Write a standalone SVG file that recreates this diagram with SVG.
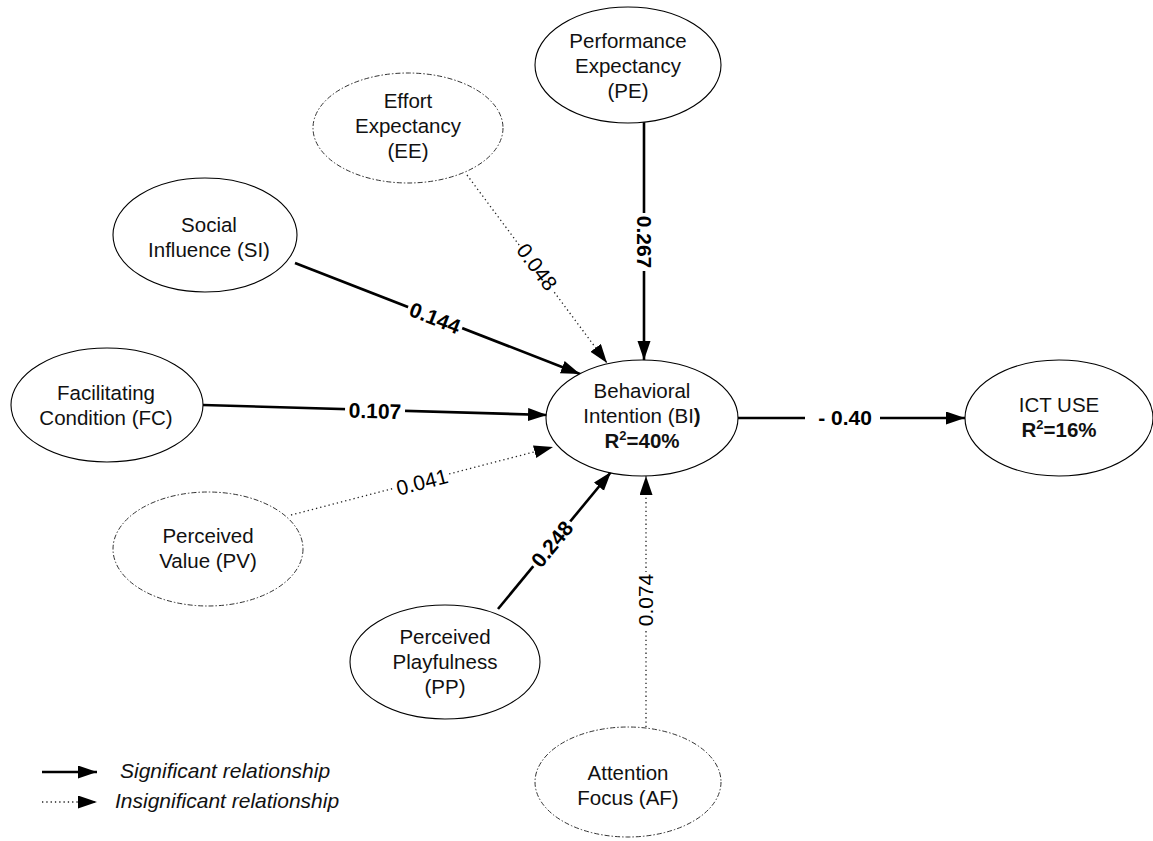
<svg xmlns="http://www.w3.org/2000/svg" width="1153" height="841" viewBox="0 0 1153 841">
  <style>
    .node { fill: #fff; stroke: #000; stroke-width: 1.1; }
    .weak { fill: #fff; stroke: #333; stroke-width: 1; stroke-dasharray: 5 2 1.5 2; }
    .lbl { font-family: "Liberation Sans", Arial, sans-serif; font-size: 20.5px; fill: #111; text-anchor: middle; }
    .sig { fill: none; stroke: #000; stroke-width: 2.6; }
    .ins { fill: none; stroke: #222; stroke-width: 1.3; stroke-dasharray: 1.3 3; }
    .coef { font-family: "Liberation Sans", Arial, sans-serif; font-size: 21px; fill: #000; text-anchor: middle; }
    .b { font-weight: bold; }
    .bg { fill: #fff; }
    .legend { font-family: "Liberation Sans", Arial, sans-serif; font-size: 21px; font-style: italic; fill: #111; }
  </style>
  <defs>
    <marker id="arrow" markerUnits="userSpaceOnUse" markerWidth="20" markerHeight="14" refX="19" refY="6.5" orient="auto">
      <path d="M0,0 L19,6.5 L0,13 z" fill="#000"/>
    </marker>
  </defs>

  <!-- connectors -->
  <g id="connectors">
    <!-- PE -> BI -->
    <path class="sig" d="M644,122 L644,360" marker-end="url(#arrow)"/>
    <!-- EE -> BI -->
    <path class="ins" d="M467,175 L607,363" marker-end="url(#arrow)"/>
    <!-- SI -> BI -->
    <path class="sig" d="M295,263 L580,374" marker-end="url(#arrow)"/>
    <!-- FC -> BI -->
    <path class="sig" d="M203,405 L547,415" marker-end="url(#arrow)"/>
    <!-- PV -> BI -->
    <path class="ins" d="M291,515 L553,447" marker-end="url(#arrow)"/>
    <!-- PP -> BI -->
    <path class="sig" d="M498,609 L611,472" marker-end="url(#arrow)"/>
    <!-- AF -> BI -->
    <path class="ins" d="M646,727 L646,476" marker-end="url(#arrow)"/>
    <!-- BI -> ICT USE -->
    <path class="sig" d="M738,418 L965,418" marker-end="url(#arrow)"/>

    <!-- path coefficients -->
    <g transform="translate(644,242) rotate(90)">
      <rect class="bg" x="-29" y="-9" width="58" height="18"/>
      <text class="coef b" dy=".35em">0.267</text>
    </g>
    <g transform="translate(537,267) rotate(53.3)">
      <rect class="bg" x="-28" y="-9" width="56" height="18"/>
      <text class="coef" dy=".35em">0.048</text>
    </g>
    <g transform="translate(435,318) rotate(21.3)">
      <rect class="bg" x="-29" y="-9" width="58" height="18"/>
      <text class="coef b" dy=".35em">0.144</text>
    </g>
    <g transform="translate(375,411) rotate(1.7)">
      <rect class="bg" x="-30" y="-9" width="60" height="18"/>
      <text class="coef b" dy=".35em">0.107</text>
    </g>
    <g transform="translate(422,482) rotate(-14.6)">
      <rect class="bg" x="-28" y="-9" width="56" height="18"/>
      <text class="coef" dy=".35em">0.041</text>
    </g>
    <g transform="translate(552,544) rotate(-50.5)">
      <rect class="bg" x="-29" y="-9" width="58" height="18"/>
      <text class="coef b" dy=".35em">0.248</text>
    </g>
    <g transform="translate(646,600) rotate(-90)">
      <rect class="bg" x="-28" y="-9" width="56" height="18"/>
      <text class="coef" dy=".35em">0.074</text>
    </g>
    <g transform="translate(845,418)">
      <rect class="bg" x="-40" y="-9" width="75" height="18"/>
      <text class="coef b" dy=".35em" font-size="21.5">- 0.40</text>
    </g>
  </g>

  <!-- constructs -->
  <g id="node-pe">
    <ellipse class="node" cx="628" cy="65" rx="93" ry="58"/>
    <text class="lbl"><tspan x="628" y="48">Performance</tspan><tspan x="628" y="73">Expectancy</tspan><tspan x="628" y="98">(PE)</tspan></text>
  </g>
  <g id="node-ee">
    <ellipse class="weak" cx="408" cy="128" rx="95" ry="55"/>
    <text class="lbl"><tspan x="408" y="108">Effort</tspan><tspan x="408" y="133">Expectancy</tspan><tspan x="408" y="158">(EE)</tspan></text>
  </g>
  <g id="node-si">
    <ellipse class="node" cx="205" cy="235" rx="92" ry="57"/>
    <text class="lbl"><tspan x="209" y="232">Social</tspan><tspan x="209" y="257">Influence (SI)</tspan></text>
  </g>
  <g id="node-fc">
    <ellipse class="node" cx="107" cy="405" rx="96" ry="57"/>
    <text class="lbl"><tspan x="106" y="400">Facilitating</tspan><tspan x="106" y="425">Condition (FC)</tspan></text>
  </g>
  <g id="node-pv">
    <ellipse class="weak" cx="208" cy="549" rx="95" ry="57"/>
    <text class="lbl"><tspan x="208" y="543">Perceived</tspan><tspan x="208" y="568">Value (PV)</tspan></text>
  </g>
  <g id="node-pp">
    <ellipse class="node" cx="445" cy="662" rx="95" ry="57"/>
    <text class="lbl"><tspan x="445" y="644">Perceived</tspan><tspan x="445" y="669">Playfulness</tspan><tspan x="445" y="694">(PP)</tspan></text>
  </g>
  <g id="node-af">
    <ellipse class="weak" cx="628" cy="782" rx="93" ry="55"/>
    <text class="lbl"><tspan x="628" y="780">Attention</tspan><tspan x="628" y="805">Focus (AF)</tspan></text>
  </g>
  <g id="node-bi">
    <ellipse class="node" cx="642" cy="418" rx="96" ry="58"/>
    <text class="lbl"><tspan x="642" y="398">Behavioral</tspan><tspan x="642" y="423">Intention (BI<tspan font-weight="bold">)</tspan></tspan><tspan x="642" y="448" font-weight="bold">R<tspan font-size="13" dy="-8">2</tspan><tspan dy="8">=40%</tspan></tspan></text>
  </g>
  <g id="node-ict">
    <ellipse class="node" cx="1059" cy="418" rx="94" ry="58"/>
    <text class="lbl"><tspan x="1059" y="412">ICT USE</tspan><tspan x="1059" y="437" font-weight="bold">R<tspan font-size="13" dy="-8">2</tspan><tspan dy="8">=16%</tspan></tspan></text>
  </g>

  <!-- legend -->
  <g id="legend">
    <path class="sig" d="M42,772 L97,772" stroke-width="2" marker-end="url(#arrow)"/>
    <text class="legend" x="120" y="778">Significant relationship</text>
    <path class="ins" d="M42,802 L97,802" marker-end="url(#arrow)"/>
    <text class="legend" x="115" y="808">Insignificant relationship</text>
  </g>
</svg>
